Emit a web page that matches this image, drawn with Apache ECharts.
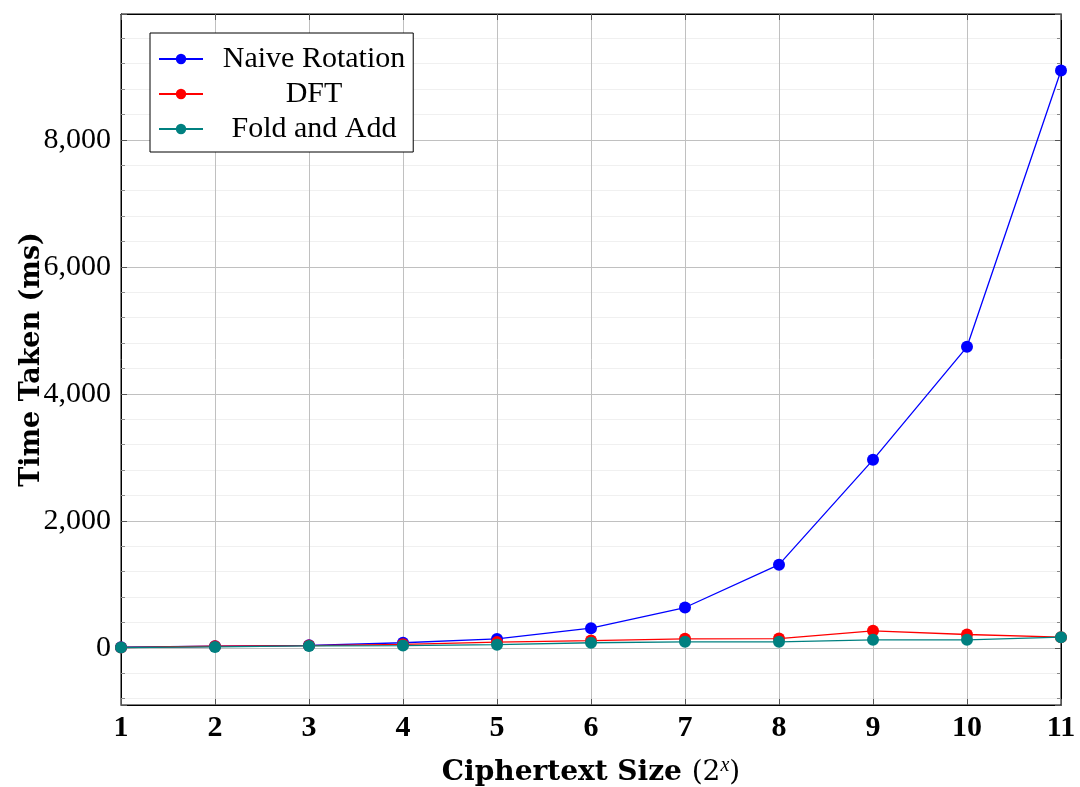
<!DOCTYPE html>
<html>
<head>
<meta charset="utf-8">
<title>Time Taken vs Ciphertext Size</title>
<script src="https://cdn.jsdelivr.net/npm/echarts@6/dist/echarts.min.js"></script>
<style>
  html, body { margin: 0; padding: 0; background: #fff; }
  #chart { width: 1080px; height: 787px; }
</style>
</head>
<body>
<div id="chart"></div>
<script>
// Ciphertext size exponents (2^x)
const sizes = [1, 2, 3, 4, 5, 6, 7, 8, 9, 10, 11];

// Time taken in milliseconds for each method
const naiveRotation = [10, 25, 40, 80, 140, 310, 635, 1310, 2960, 4740, 9090];
const dft = [5, 25, 35, 55, 90, 115, 142, 146, 268, 210, 168];
const foldAndAdd = [5, 15, 30, 35, 50, 80, 95, 95, 126, 126, 168];

const seriesNames = ['Naive Rotation', 'DFT', 'Fold and Add'];
const seriesValues = [naiveRotation, dft, foldAndAdd];
const seriesColors = ['#0000ff', '#ff0000', '#008080'];

const serif = '"Liberation Serif", "DejaVu Serif", serif';
const wideSerif = '"DejaVu Serif", "Liberation Serif", serif';

function pairs(values) {
  return sizes.map((s, i) => [s, values[i]]);
}

function yLabel(v) {
  if (v % 2000 !== 0) return '';
  return v.toLocaleString('en-US');
}

const yCommon = {
  type: 'value',
  min: -900,
  max: 9980,
  splitNumber: 5,
  minInterval: 2000,
  maxInterval: 2000,
  axisLine: { show: true, lineStyle: { color: '#000', width: 1 } },
  axisTick: { show: true, inside: true, length: 6, lineStyle: { color: '#555' } },
  minorTick: { show: true, splitNumber: 5, length: 4, lineStyle: { color: '#888' } }
};

const xCommon = {
  type: 'value',
  min: 1,
  max: 11,
  interval: 1,
  axisLine: { show: true, onZero: false, lineStyle: { color: '#000', width: 1 } },
  axisTick: { show: true, inside: true, length: 6, lineStyle: { color: '#555' } }
};

const chart = echarts.init(document.getElementById('chart'), null, { renderer: 'canvas' });

chart.setOption({
  animation: false,
  backgroundColor: '#fff',
  grid: {
    left: 121, right: 19, top: 14, bottom: 82,
    outerBoundsMode: 'none',
    containLabel: false,
    show: true, borderColor: '#000', borderWidth: 1, backgroundColor: 'transparent'
  },
  legend: {
    orient: 'vertical',
    left: 150,
    top: 33,
    padding: [11, 8, 8, 8],
    itemGap: 5,
    itemWidth: 44,
    itemHeight: 13,
    backgroundColor: '#fff',
    borderColor: '#000',
    borderWidth: 1,
    borderRadius: 0,
    data: seriesNames,
    formatter: name => '{c|' + name + '}',
    textStyle: {
      fontFamily: serif, fontSize: 30, color: '#000',
      rich: {
        c: { fontFamily: serif, fontSize: 30, color: '#000', width: 212, align: 'center' }
      }
    }
  },
  xAxis: [
    Object.assign({}, xCommon, {
      position: 'bottom',
      name: '{b|Ciphertext Size }{r|(2}{s|x}{r|)}',
      nameLocation: 'middle',
      nameGap: 51,
      nameMoveOverlap: false,
      nameTextStyle: {
        rich: {
          b: { fontFamily: wideSerif, fontSize: 28, fontWeight: 'bold', color: '#000' },
          r: { fontFamily: wideSerif, fontSize: 28, color: '#000' },
          s: { fontFamily: serif, fontSize: 20, fontStyle: 'italic', color: '#000', padding: [0, 0, 14, 0] }
        }
      },
      axisLabel: {
        show: true, margin: 8,
        fontFamily: serif, fontSize: 30, fontWeight: 'bold', color: '#000'
      },
      splitLine: { show: true, lineStyle: { color: '#c0c0c0', width: 1 } }
    }),
    Object.assign({}, xCommon, {
      position: 'top',
      axisLabel: { show: false },
      splitLine: { show: false }
    })
  ],
  yAxis: [
    Object.assign({}, yCommon, {
      position: 'left',
      name: 'Time Taken (ms)',
      nameLocation: 'middle',
      nameGap: 76,
      nameMoveOverlap: false,
      nameTextStyle: { fontFamily: wideSerif, fontSize: 27, fontWeight: 'bold', color: '#000' },
      axisLabel: {
        show: true, margin: 10, formatter: yLabel,
        showMinLabel: false, showMaxLabel: false,
        fontFamily: serif, fontSize: 30, color: '#000'
      },
      splitLine: { show: true, lineStyle: { color: '#c0c0c0', width: 1 } },
      minorSplitLine: { show: true, lineStyle: { color: '#f0f0f0', width: 1 } }
    }),
    Object.assign({}, yCommon, {
      position: 'right',
      axisLabel: { show: false },
      splitLine: { show: false },
      minorSplitLine: { show: false }
    })
  ],
  series: seriesNames.map((name, i) => ({
    name: name,
    type: 'line',
    xAxisIndex: 0,
    yAxisIndex: 0,
    data: pairs(seriesValues[i]),
    symbol: 'circle',
    symbolSize: 12,
    showSymbol: true,
    clip: false,
    color: seriesColors[i],
    lineStyle: { color: seriesColors[i], width: 1.3 },
    itemStyle: { color: seriesColors[i] },
    emphasis: { disabled: true },
    z: 3 + i
  }))
});
</script>
</body>
</html>
